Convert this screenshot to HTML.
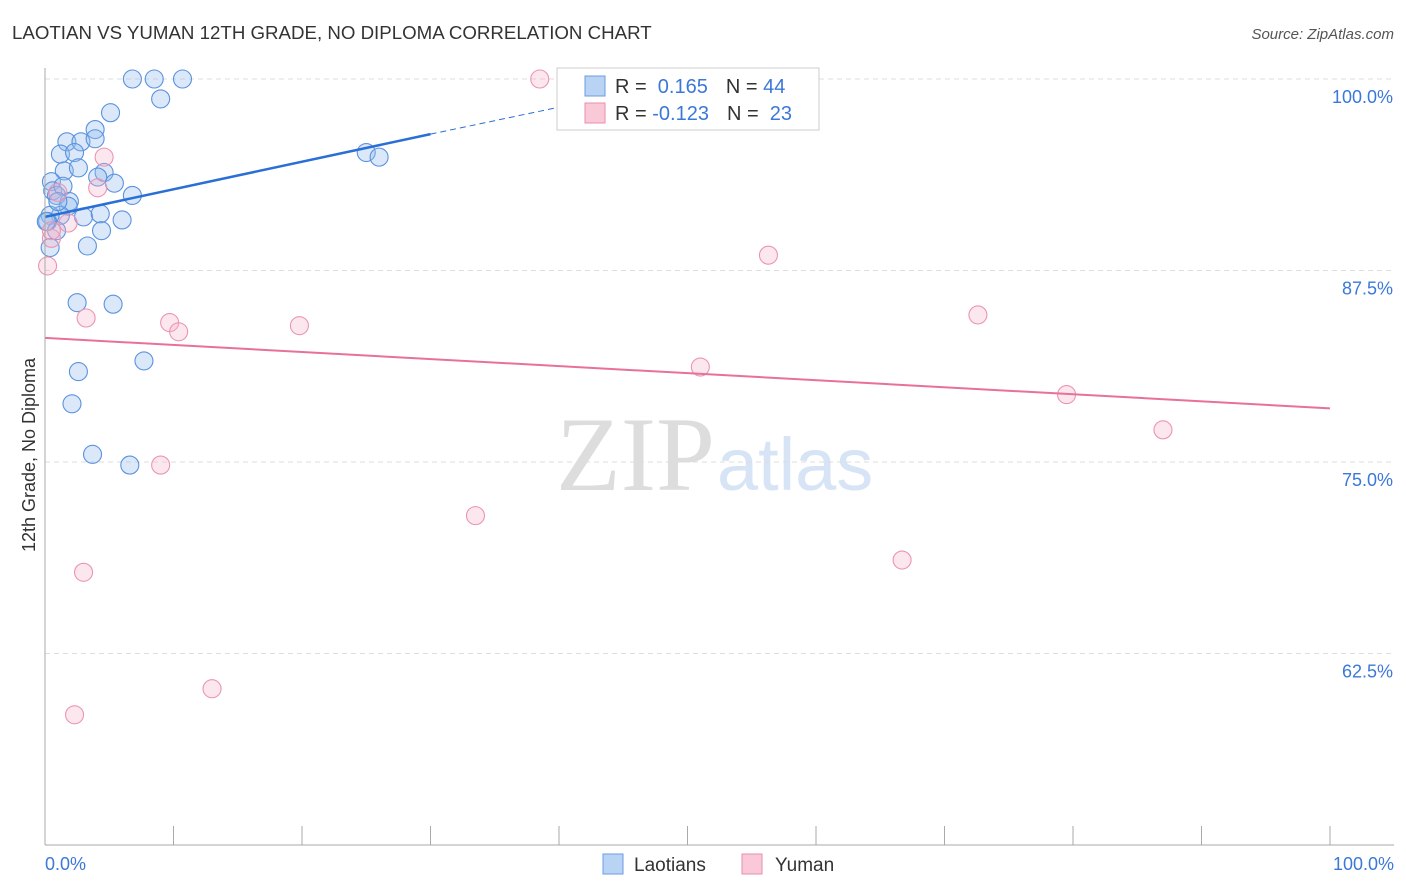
<!DOCTYPE html>
<html><head><meta charset="utf-8"><style>
body{margin:0;background:#fff;font-family:"Liberation Sans",sans-serif}
svg{display:block}
</style></head><body>
<svg id="c" width="1406" height="892">
<text x="12" y="39" font-size="18.7" fill="#333">LAOTIAN VS YUMAN 12TH GRADE, NO DIPLOMA CORRELATION CHART</text>
<text x="1394" y="39" font-size="15" fill="#555" font-style="italic" text-anchor="end">Source: ZipAtlas.com</text>
<text x="715" y="490" font-size="106" fill="#ddd" text-anchor="end" font-family="Liberation Serif">ZIP</text>
<text x="717" y="490" font-size="74" fill="#d6e4f5">atlas</text>
<text transform="translate(35,455) rotate(-90)" font-size="18" fill="#333" text-anchor="middle">12th Grade, No Diploma</text>
<g id="grid"></g><g id="pts"></g><g id="lines"></g>
<line x1="45" y1="68" x2="45" y2="845" stroke="#aaa"/>
<line x1="45" y1="845" x2="1394" y2="845" stroke="#aaa"/>
<text x="45" y="870" font-size="18" fill="#3b78d8">0.0%</text>
<text x="1394" y="870" font-size="18" fill="#3b78d8" text-anchor="end">100.0%</text>
<g>
<rect x="557" y="68" width="262" height="62" fill="#fff" stroke="#ccc"/>
<rect x="585" y="76" width="20" height="20" fill="#b9d3f5" stroke="#6a9be0"/>
<rect x="585" y="103" width="20" height="20" fill="#f9c9d7" stroke="#ea8fae"/>
<text x="615" y="93" font-size="20" fill="#333">R = <tspan fill="#3b78d8">&#160;0.165</tspan><tspan dx="18">N = </tspan><tspan fill="#3b78d8">44</tspan></text>
<text x="615" y="120" font-size="20" fill="#333">R = <tspan fill="#3b78d8">-0.123</tspan><tspan dx="18">N = </tspan><tspan fill="#3b78d8">&#160;23</tspan></text>
</g>
<g>
<rect x="603" y="854" width="20" height="20" fill="#b9d3f5" stroke="#6a9be0"/>
<text x="634" y="871" font-size="19" fill="#333">Laotians</text>
<rect x="742" y="854" width="20" height="20" fill="#f9c9d7" stroke="#ea8fae"/>
<text x="775" y="871" font-size="19" fill="#333">Yuman</text>
</g>
</svg>
<script>
const yTicks=[100,87.5,75,62.5];
const xTickVals=[0,10,20,30,40,50,60,70,80,90,100];
const laoX=[6.8,8.5,10.7,9.0,5.1,3.9,1.7,2.8,3.9,1.2,2.3,1.5,2.6,4.6,4.1,5.4,0.5,0.6,0.9,1.4,1.9,6.8,1.8,1.2,3.0,4.3,6.0,0.4,0.2,0.9,4.4,3.3,2.5,5.3,7.7,2.6,2.1,3.7,6.6,25.0,26.0,0.4,0.1,1.0];
const laoY=[100,100,100,98.7,97.8,96.7,95.9,95.9,96.1,95.1,95.2,94.0,94.2,93.9,93.6,93.2,93.3,92.7,92.4,93.0,92.0,92.4,91.7,91.1,91.0,91.2,90.8,91.1,90.7,90.1,90.1,89.1,85.4,85.3,81.6,80.9,78.8,75.5,74.8,95.2,94.9,89.0,90.7,92.0];
const yuX=[38.5,4.6,4.1,1.0,1.8,0.5,0.2,3.2,9.7,10.4,19.8,9.0,33.5,3.0,13.0,2.3,56.3,72.6,51.0,79.5,87.0,66.7,0.5];
const yuY=[100,94.9,92.9,92.6,90.6,89.6,87.8,84.4,84.1,83.5,83.9,74.8,71.5,67.8,60.2,58.5,88.5,84.6,81.2,79.4,77.1,68.6,90.1];
const lao=[0.165,{x0:0,y0:91.0,x1:30,y1:96.4,x2:42.5,y2:98.6}];
const yuTrend=[0,83.1,100,78.5];
const X=v=>45+v*12.85, Y=v=>79+(100-v)*15.32;
const ns="http://www.w3.org/2000/svg";
function mk(t,a,p){const e=document.createElementNS(ns,t);for(const k in a)e.setAttribute(k,a[k]);p.appendChild(e);return e;}
const g=document.getElementById('grid');
yTicks.forEach(t=>{
 const l=mk('line',{x1:45,x2:1394,y1:Y(t),y2:Y(t),stroke:'#ddd','stroke-dasharray':'5,4'},g);
 
 
 const tx=mk('text',{x:1393,y:Y(t)+24,'font-size':18,fill:'#3b78d8','text-anchor':'end'},g);
 tx.textContent=t.toFixed(1)+'%';
 
 
});
xTickVals.forEach(t=>{
 const l=mk('line',{x1:X(t),x2:X(t),y1:826,y2:845,stroke:'#aaa'},g);
 
 
});
const p=document.getElementById('pts');
laoX.forEach((v,i)=>{
 const c=mk('circle',{cx:X(v),cy:Y(laoY[i]),r:9,fill:'rgba(150,188,238,0.35)',stroke:'#5b92de','stroke-width':1.1},p);
 
 
});
yuX.forEach((v,i)=>{
 const c=mk('circle',{cx:X(v),cy:Y(yuY[i]),r:9,fill:'rgba(245,175,198,0.3)',stroke:'#ec94b2','stroke-width':1.1},p);
 
 
});
const L=document.getElementById('lines'),t=lao[1];
const a=mk('line',{x1:X(t.x0),y1:Y(t.y0),x2:X(t.x1),y2:Y(t.y1),stroke:'#2a6fd6','stroke-width':2.5},L);


const b=mk('line',{x1:X(t.x1),y1:Y(t.y1),x2:X(t.x2),y2:Y(t.y2),stroke:'#2a6fd6','stroke-width':1,'stroke-dasharray':'6,4'},L);


const c=mk('line',{x1:X(yuTrend[0]),y1:Y(yuTrend[1]),x2:X(yuTrend[2]),y2:Y(yuTrend[3]),stroke:'#e8709a','stroke-width':2},L);


</script>
</body></html>
